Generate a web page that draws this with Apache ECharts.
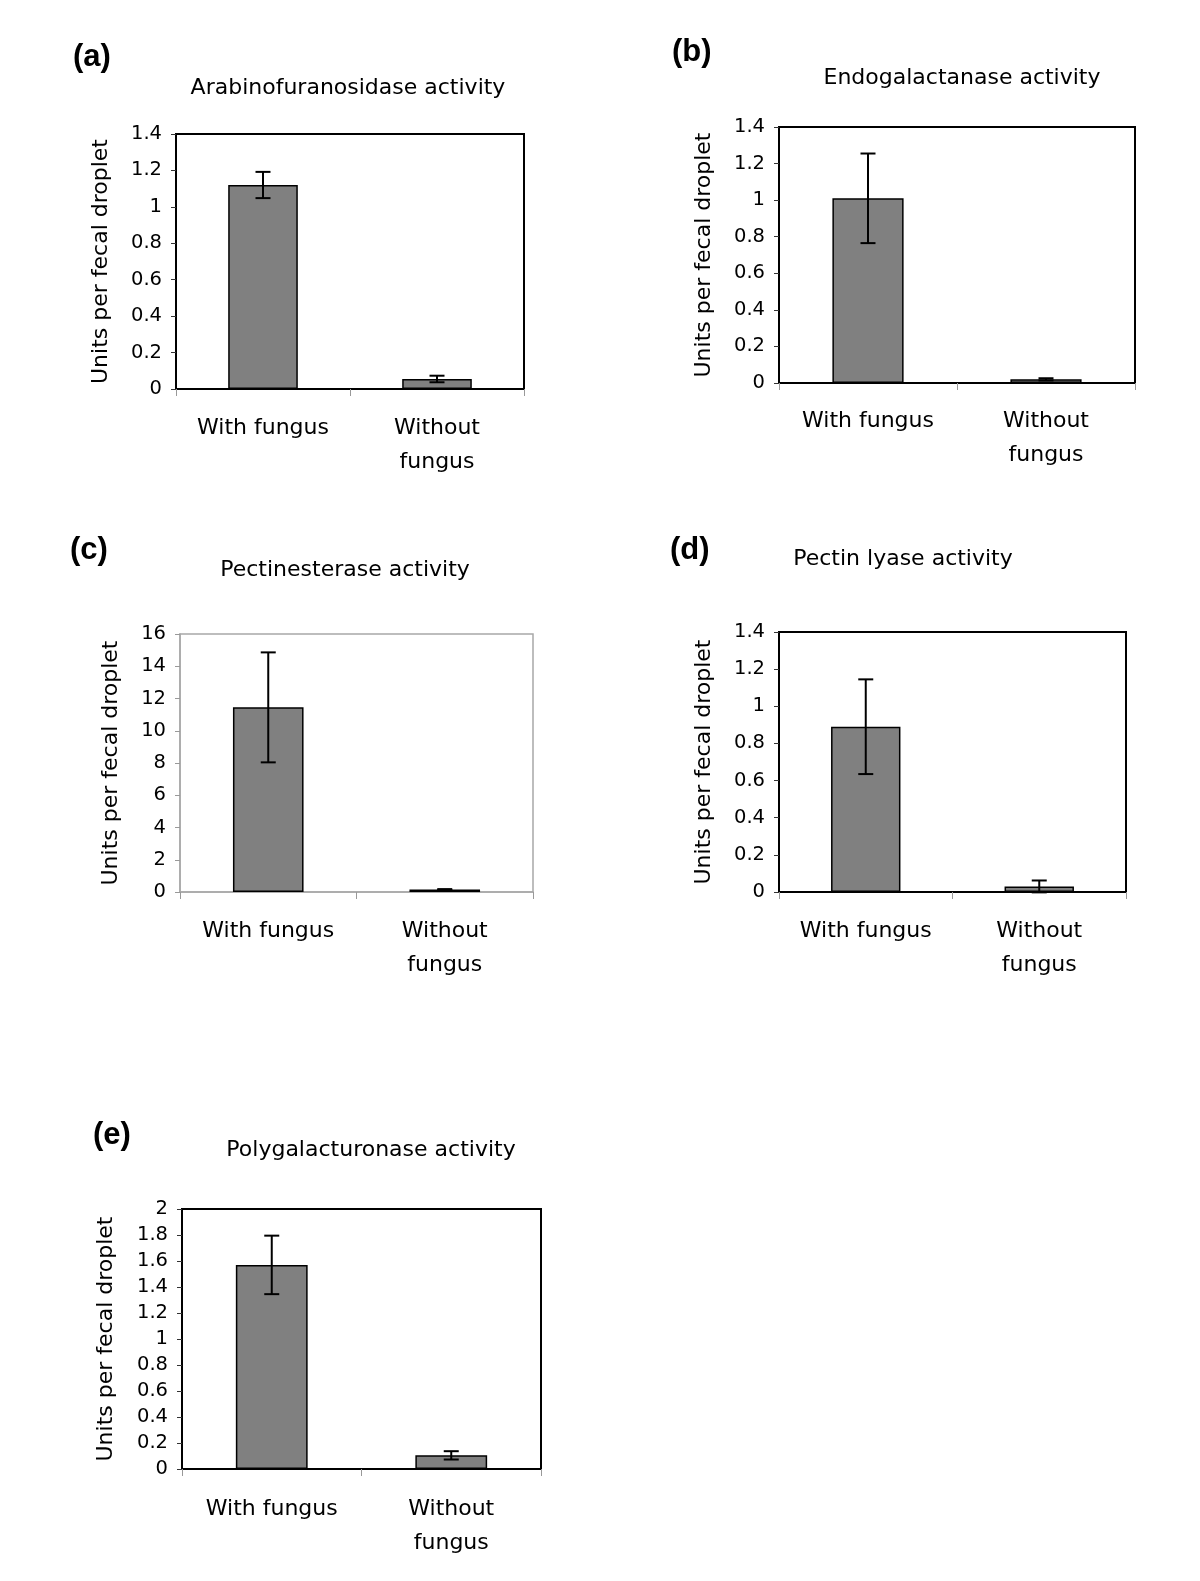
<!DOCTYPE html>
<html>
<head>
<meta charset="utf-8">
<script src="https://cdn.jsdelivr.net/npm/echarts@6/dist/echarts.min.js"></script>
<style>
  html, body { margin: 0; padding: 0; background: #fff; }
  #chart { width: 1200px; height: 1581px; }
</style>
</head>
<body>
<div id="chart"></div>
<script>
// categories shared by every panel
const categories = ['With fungus', 'Without\nfungus']
const panelLetters = ['(a)', '(b)', '(c)', '(d)', '(e)']
const panelTitles = [
  'Arabinofuranosidase activity',
  'Endogalactanase activity',
  'Pectinesterase activity',
  'Pectin lyase activity',
  'Polygalacturonase activity'
]
const yAxisName = 'Units per fecal droplet'

// means and error (± half-length)
const arabinofuranosidaseMean = [1.12, 0.055]
const arabinofuranosidaseErr = [0.072, 0.018]
const endogalactanaseMean = [1.01, 0.02]
const endogalactanaseErr = [0.245, 0.006]
const pectinesteraseMean = [11.45, 0.15]
const pectinesteraseErr = [3.41, 0.03]
const pectinLyaseMean = [0.89, 0.03]
const pectinLyaseErr = [0.255, 0.032]
const polygalacturonaseMean = [1.57, 0.105]
const polygalacturonaseErr = [0.225, 0.032]

// y axis ranges
const yMax = [1.4, 1.4, 16, 1.4, 2]
const yStep = [0.2, 0.2, 2, 0.2, 0.2]

const means = [arabinofuranosidaseMean, endogalactanaseMean, pectinesteraseMean, pectinLyaseMean, polygalacturonaseMean]
const errs = [arabinofuranosidaseErr, endogalactanaseErr, pectinesteraseErr, pectinLyaseErr, polygalacturonaseErr]

// layout of each panel (pixels)
const panels = [
  { grid: { left: 176, top: 134, width: 348, height: 255 }, titleX: 348, titleY: 77, letterX: 73, letterY: 42, nameGap: 64, labelMargin: 22, frame: '#000' },
  { grid: { left: 779, top: 127, width: 356, height: 256 }, titleX: 962, titleY: 67, letterX: 672, letterY: 37, nameGap: 64, labelMargin: 21, frame: '#000' },
  { grid: { left: 180, top: 634, width: 353, height: 258 }, titleX: 345, titleY: 559, letterX: 70, letterY: 535, nameGap: 58, labelMargin: 22, frame: '#a8a8a8' },
  { grid: { left: 779, top: 632, width: 347, height: 260 }, titleX: 903, titleY: 548, letterX: 670, letterY: 535, nameGap: 64, labelMargin: 22, frame: '#000' },
  { grid: { left: 182, top: 1209, width: 359, height: 260 }, titleX: 371, titleY: 1139, letterX: 93, letterY: 1120, nameGap: 65, labelMargin: 23, frame: '#000' }
]

const FONT = 'DejaVu Sans'

function renderErrorBar(params, api) {
  const x = api.value(0)
  const mean = api.value(1)
  const err = api.value(2)
  const top = api.coord([x, mean + err])
  const bottom = api.coord([x, mean - err])
  const half = 7.5
  const style = { stroke: '#000', lineWidth: 2 }
  return {
    type: 'group',
    children: [
      { type: 'line', shape: { x1: top[0], y1: top[1], x2: bottom[0], y2: bottom[1] }, style },
      { type: 'line', shape: { x1: top[0] - half, y1: top[1], x2: top[0] + half, y2: top[1] }, style },
      { type: 'line', shape: { x1: bottom[0] - half, y1: bottom[1], x2: bottom[0] + half, y2: bottom[1] }, style }
    ]
  }
}

const option = {
  animation: false,
  backgroundColor: '#fff',
  title: [],
  grid: [],
  xAxis: [],
  yAxis: [],
  series: []
}

panels.forEach((p, i) => {
  const frameWidth = p.frame === '#000' ? 2 : 1.5
  option.title.push({
    text: panelTitles[i],
    left: p.titleX,
    top: p.titleY,
    textAlign: 'center',
    padding: 0,
    textStyle: { fontFamily: FONT, fontSize: 22, fontWeight: 'normal', color: '#000' }
  })
  option.title.push({
    text: panelLetters[i],
    left: p.letterX,
    top: p.letterY,
    padding: 0,
    textStyle: { fontFamily: 'Liberation Sans', fontSize: 31, fontWeight: 'bold', color: '#000' }
  })
  option.grid.push({
    ...p.grid,
    show: true,
    borderColor: p.frame,
    borderWidth: frameWidth,
    backgroundColor: '#fff'
  })
  option.xAxis.push({
    type: 'category',
    gridIndex: i,
    data: categories,
    axisLine: { lineStyle: { color: p.frame, width: frameWidth } },
    axisTick: { show: true, interval: 0, alignWithLabel: false, length: 7, lineStyle: { color: '#999', width: 1 } },
    axisLabel: { interval: 0, margin: p.labelMargin, fontFamily: FONT, fontSize: 22, lineHeight: 34, color: '#000' },
    splitLine: { show: false }
  })
  option.yAxis.push({
    type: 'value',
    gridIndex: i,
    min: 0,
    max: yMax[i],
    interval: yStep[i],
    name: yAxisName,
    nameLocation: 'middle',
    nameRotate: 90,
    nameGap: p.nameGap,
    nameTextStyle: { fontFamily: FONT, fontSize: 22, color: '#000' },
    axisLine: { show: true, lineStyle: { color: p.frame, width: frameWidth } },
    axisTick: { show: true, length: 5, lineStyle: { color: p.frame === '#000' ? '#333' : '#999', width: 1 } },
    axisLabel: { margin: 14, fontFamily: FONT, fontSize: 19.5, color: '#000' },
    splitLine: { show: false }
  })
  option.series.push({
    type: 'bar',
    xAxisIndex: i,
    yAxisIndex: i,
    data: means[i],
    barWidth: '40%',
    itemStyle: { color: '#808080', borderColor: '#000', borderWidth: 1.5 },
    z: 2
  })
  option.series.push({
    type: 'custom',
    xAxisIndex: i,
    yAxisIndex: i,
    renderItem: renderErrorBar,
    encode: { x: 0, y: 1 },
    data: means[i].map((m, j) => [j, m, errs[i][j]]),
    z: 3
  })
})

const chart = echarts.init(document.getElementById('chart'), null, { renderer: 'canvas' })
chart.setOption(option)
</script>
</body>
</html>
